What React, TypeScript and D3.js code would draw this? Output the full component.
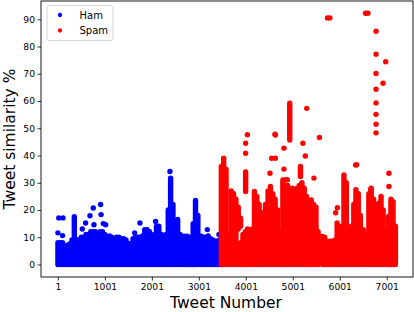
import * as d3 from 'd3';
import { useEffect, useRef } from 'react';

// ham: vertical runs of overlapping dots (tweet number, lowest %, highest %)
const hamX = [1, 50, 100, 150, 200, 250, 300, 350, 400, 450, 500, 550, 600, 650, 700, 750, 800, 850, 900, 950,
  1000, 1050, 1100, 1150, 1200, 1250, 1300, 1350, 1400, 1450, 1500, 1550, 1600, 1650, 1700, 1750, 1800, 1850,
  1900, 1950, 2000, 2050, 2100, 2150, 2200, 2250, 2300, 2350, 2400, 2450, 2500, 2550, 2600, 2650, 2700, 2750,
  2800, 2850, 2880, 2930, 2980, 3050, 3100, 3150, 3200, 3250, 3300, 3350, 3400, 3450, 3500];
const hamLow = hamX.map(() => 0);
const hamHigh = [8, 8, 8, 7, 7, 7.5, 9, 17.5, 9, 9, 10, 10, 11, 11, 12, 12, 12, 11, 12, 12,
  11, 10, 10.5, 10, 9.5, 10, 10, 9.5, 9.5, 9, 7.7, 7.7, 9.5, 10, 10, 10, 10.5, 12.8,
  12.8, 12, 10, 11, 14, 14, 11, 10, 11, 20, 31.7, 22, 16, 16.5, 11, 10.4, 10.4, 10.4,
  10, 10, 15, 23.5, 18, 10.4, 10, 10, 10.5, 9.5, 9, 8.5, 8.6, 9, 9];
// ham: single dots
const hamPtX = [20, 110, 1, 100, 520, 591, 683, 754, 768, 910, 920, 968, 1017, 1634, 1747, 2081, 2386, 3182, 3429];
const hamPtY = [17.1, 17.1, 11.6, 10.6, 13, 15.2, 17.9, 20.7, 14.6, 22, 18.3, 15, 14.6, 11.6, 15.2, 15.8, 34.1, 12.8, 11];

// spam runs
const spamX = [3480, 3530, 3580, 3640, 3690, 3740, 3740, 3790, 3840, 3840, 3890, 3890, 3940, 3997, 3990, 4040,
  4090, 4140, 4185, 4235, 4285, 4330, 4380, 4420, 4475, 4525, 4575, 4625, 4625, 4680, 4730, 4790, 4840, 4890,
  4936, 4940, 4990, 5040, 5040, 5090, 5140, 5164, 5195, 5245, 5295, 5350, 5395, 5445, 5495, 5495, 5540, 5630,
  5680, 5740, 5800, 5850, 5900, 5945, 5995, 6045, 6090, 6140, 6190, 6250, 6300, 6345, 6395, 6440, 6500, 6560,
  6620, 6670, 6720, 6773, 6830, 6880, 6925, 6985, 7040, 7090, 7135, 7185];
const spamLow = [0, 0, 0, 0, 0, 12, 0, 0, 13, 0, 14, 0, 0, 26.8, 0, 0,
  0, 0, 0, 0, 0, 0, 0, 0, 0, 0, 0, 15, 0, 0, 0, 0, 0, 0,
  45.7, 0, 0, 8, 0, 0, 0, 32.3, 0, 0, 0, 0, 0, 0, 8, 0, 0, 0,
  0, 0, 0, 0, 0, 0, 0, 0, 0, 0, 0, 0, 0, 0, 0, 0, 0, 0,
  0, 0, 0, 0, 0, 0, 0, 0, 0, 0, 0, 0];
const spamHigh = [36, 39, 35, 11, 27, 26, 8, 24, 21, 7, 17, 8, 11, 34, 12, 13,
  12, 13, 26.8, 25, 22, 19, 16, 22, 27, 28.6, 26, 24, 10, 20, 12, 31, 28, 29,
  59.2, 26, 28, 27, 4, 28, 29, 36, 30, 28, 25, 15, 23.7, 22, 21, 4, 12, 10.3,
  10, 8.5, 8.5, 8.5, 9, 15.2, 14, 10, 32.9, 30, 12, 14, 22, 27.4, 26, 18, 12.8, 11,
  26, 28, 24, 9, 22.5, 25, 20, 12, 17.6, 24, 23, 14];
// spam: single dots
const spamPtX = [5740, 5790, 6550, 6600, 6773, 6773, 6773, 6773, 6773, 6773, 6773, 6773, 6979, 6922, 5297, 4034,
  3997, 3997, 4622, 5568, 4813, 4551, 4515, 4884, 5217, 5268, 5451, 6360, 7048, 7048, 6659, 5950, 5913,
  4631, 4631, 4813, 4850, 6339];
const spamPtY = [90.5, 90.5, 92.2, 92.2, 85.6, 77.2, 70.1, 64.3, 59.3, 55.1, 51.5, 48.3, 74.4, 66.5, 57.3, 47.6,
  44.5, 40.8, 47.8, 46.6, 42.7, 39, 33.5, 31.1, 44.5, 39.8, 31.7, 36.6, 33.5, 28.6, 27.5, 20.8, 19,
  47.5, 39, 35, 31, 36.5];

const xTicks = [1, 1001, 2001, 3001, 4001, 5001, 6001, 7001];
const yTicks = [0, 10, 20, 30, 40, 50, 60, 70, 80, 90];

const W = 414;
const H = 312;
const margin = { top: 1, right: 1, bottom: 35, left: 41 };
const R = 2.7;

const App = () => {
  const ref = useRef(null);

  useEffect(() => {
    const svg = d3.select(ref.current);
    svg.selectAll('*').remove();

    const x = d3.scaleLinear().domain([-359, 7560]).range([margin.left, W - margin.right]);
    const y = d3.scaleLinear().domain([-4.6, 96.7]).range([H - margin.bottom, margin.top]);

    const drawSeries = (xs, lows, highs, px, py, color) => {
      svg
        .append('g')
        .selectAll('line')
        .data(xs.map((d, i) => ({ x: d, lo: lows[i], hi: highs[i] })))
        .enter()
        .append('line')
        .attr('x1', (d) => x(d.x))
        .attr('x2', (d) => x(d.x))
        .attr('y1', (d) => y(d.lo))
        .attr('y2', (d) => y(d.hi))
        .attr('stroke', color)
        .attr('stroke-width', R * 2)
        .attr('stroke-linecap', 'round');
      svg
        .append('g')
        .selectAll('circle')
        .data(px.map((d, i) => ({ x: d, y: py[i] })))
        .enter()
        .append('circle')
        .attr('cx', (d) => x(d.x))
        .attr('cy', (d) => y(d.y))
        .attr('r', R)
        .attr('fill', color);
    };

    drawSeries(hamX, hamLow, hamHigh, hamPtX, hamPtY, '#0000ff');
    drawSeries(spamX, spamLow, spamHigh, spamPtX, spamPtY, '#ff0000');

    const xAxis = svg
      .append('g')
      .attr('transform', `translate(0, ${H - margin.bottom})`)
      .call(d3.axisBottom(x).tickValues(xTicks).tickFormat(d3.format('d')).tickSize(3.5).tickSizeOuter(0).tickPadding(2.5));
    const yAxis = svg
      .append('g')
      .attr('transform', `translate(${margin.left}, 0)`)
      .call(d3.axisLeft(y).tickValues(yTicks).tickFormat(d3.format('d')).tickSize(3.5).tickSizeOuter(0).tickPadding(2.5));
    [xAxis, yAxis].forEach((g) => {
      g.select('.domain').remove();
      g.selectAll('line').attr('stroke', '#000').attr('stroke-width', 0.8);
      g.selectAll('text').attr('fill', '#000').style('font-family', 'DejaVu Sans').style('font-size', '9.2px');
    });

    // frame
    svg
      .append('rect')
      .attr('x', margin.left)
      .attr('y', margin.top)
      .attr('width', W - margin.left - margin.right)
      .attr('height', H - margin.top - margin.bottom)
      .attr('fill', 'none')
      .attr('stroke', '#000')
      .attr('stroke-width', 0.9);

    svg
      .append('text')
      .attr('x', (margin.left + W - margin.right) / 2 - 1)
      .attr('y', 308)
      .attr('text-anchor', 'middle')
      .style('font-family', 'DejaVu Sans')
      .style('font-size', '15.5px')
      .text('Tweet Number');

    svg
      .append('text')
      .attr('transform', `translate(14.5, ${(margin.top + H - margin.bottom) / 2}) rotate(-90)`)
      .attr('text-anchor', 'middle')
      .style('font-family', 'DejaVu Sans')
      .style('font-size', '15.5px')
      .text('Tweet similarity %');

    // legend
    const lg = svg.append('g');
    lg.append('rect')
      .attr('x', 47)
      .attr('y', 5.5)
      .attr('width', 66)
      .attr('height', 35)
      .attr('rx', 2)
      .attr('fill', '#fff')
      .attr('fill-opacity', 0.8)
      .attr('stroke', '#cccccc')
      .attr('stroke-width', 0.8);
    [
      { name: 'Ham', color: '#0000ff' },
      { name: 'Spam', color: '#ff0000' },
    ].forEach((d, i) => {
      lg.append('circle').attr('cx', 60).attr('cy', 15 + i * 15.5).attr('r', R * 0.8).attr('fill', d.color);
      lg.append('text')
        .attr('x', 79.5)
        .attr('y', 18.7 + i * 15.5)
        .style('font-family', 'DejaVu Sans')
        .style('font-size', '10px')
        .text(d.name);
    });
  }, []);

  return (
    <svg ref={ref} width={W} height={H} style={{ position: 'absolute', left: 0, top: 0, background: '#fff' }}></svg>
  );
};

export default App;
